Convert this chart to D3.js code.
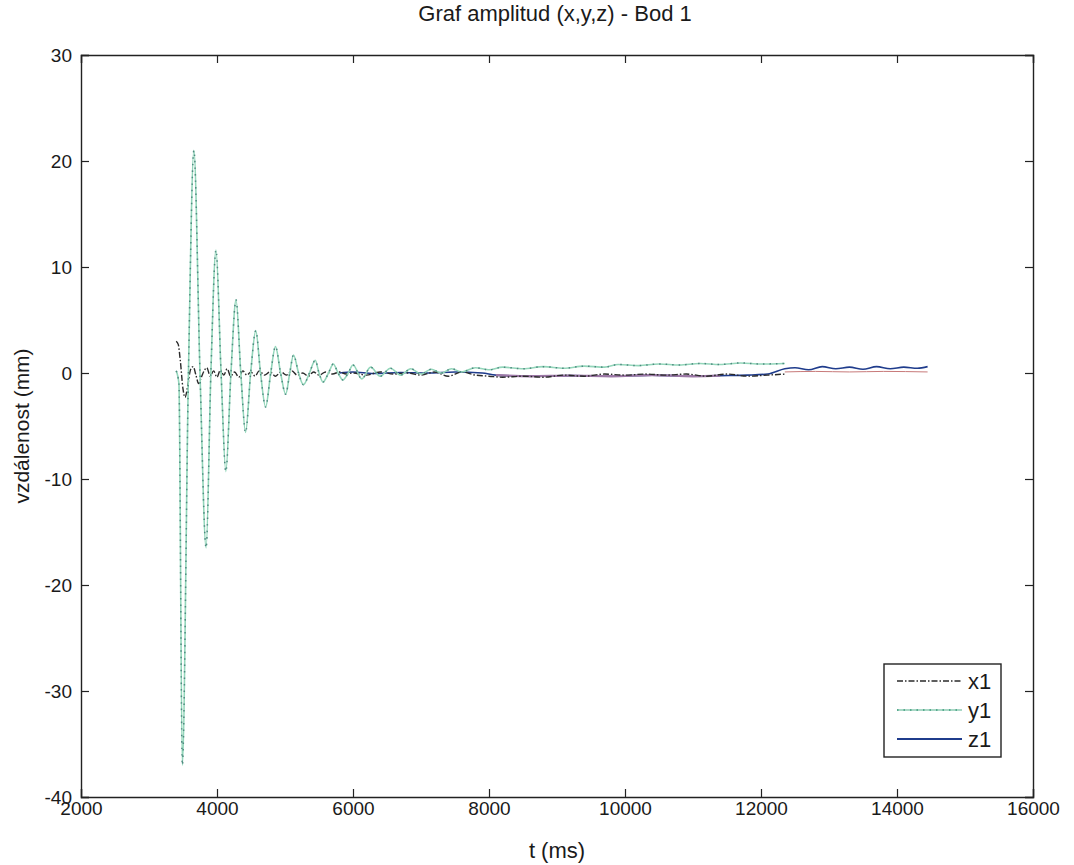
<!DOCTYPE html>
<html lang="cs">
<head>
    <meta charset="UTF-8">
    <title>Graf amplitud (x,y,z) - Bod 1</title>
    <style>
        body, html {
            margin: 0;
            padding: 0;
            background: #fff;
            font-family: "Liberation Sans", Arial, sans-serif;
        }
        .tick text {
            font-family: "Liberation Sans", Arial, sans-serif;
            font-size: 19px;
            fill: #1a1a1a;
        }
        .tick line, .domain {
            stroke: #222;
        }
    </style>
    <script src="https://d3js.org/d3.v7.min.js"></script>
</head>
<body>
    <div id="chart"></div>
    <script>
        // axis ticks
        const xTicks = [2000, 4000, 6000, 8000, 10000, 12000, 14000, 16000];
        const yTicks = [-40, -30, -20, -10, 0, 10, 20, 30];

        // series, [t (ms), value (mm)]
        const x1 = [
            [3400, 3.0], [3430, 2.7], [3460, 1.2], [3500, -1.5], [3530, -2.3], [3570, -1.2],
            [3610, 0.3], [3650, 0.6], [3690, -0.2], [3730, -1.0], [3770, -0.4], [3810, 0.2],
            [3850, 0.5], [3900, -0.3], [3950, 0.2], [4000, -0.4], [4050, 0.3], [4100, -0.2],
            [4150, 0.4], [4200, -0.3], [4260, 0.1], [4320, -0.4], [4380, 0.2], [4440, -0.2],
            [4500, 0.1], [4560, -0.3], [4620, 0.2], [4700, -0.2], [4780, 0.1], [4860, -0.3],
            [4940, 0.1], [5020, -0.2], [5100, 0.2], [5180, -0.2], [5260, 0.0], [5340, -0.3],
            [5420, 0.1], [5500, -0.2], [5600, 0.1], [5700, -0.1], [5800, 0.1], [5900, -0.1],
            [6000, 0.0], [6200, -0.2], [6400, 0.1], [6600, -0.1], [6800, 0.0], [7000, -0.2],
            [7200, 0.1], [7400, -0.3], [7600, 0.1], [7800, -0.2], [8000, -0.3], [8200, -0.4],
            [8500, -0.3], [8800, -0.4], [9100, -0.2], [9400, -0.3], [9700, -0.1], [10000, -0.2],
            [10300, -0.1], [10600, -0.2], [10900, -0.1], [11200, -0.3], [11500, -0.1], [11800, -0.3],
            [12100, -0.2], [12350, -0.1]
        ];
        const y1 = [
            [3400, 0.2], [3440, -1], [3490, -37], [3580, 0], [3660, 21], [3750, 0],
            [3840, -16.5], [3910, 0], [3985, 11.6], [4060, 0], [4130, -9.3], [4205, 0],
            [4280, 6.9], [4350, 0], [4420, -5.6], [4495, 0], [4570, 4.0], [4640, 0],
            [4715, -3.2], [4790, 0], [4860, 2.5], [4935, 0], [5010, -2.0], [5070, 0],
            [5125, 1.7], [5200, 0], [5270, -1.1], [5360, 0], [5445, 1.2], [5500, 0],
            [5560, -0.85], [5640, 0], [5710, 0.85], [5780, 0], [5850, -0.65], [5930, 0],
            [6000, 0.75], [6130, -0.55], [6260, 0.55], [6400, -0.3], [6550, 0.45], [6700, -0.2],
            [6850, 0.4], [7000, -0.1], [7150, 0.35], [7300, 0.0], [7450, 0.4], [7600, 0.1],
            [7800, 0.5], [8000, 0.3], [8200, 0.55], [8500, 0.4], [8800, 0.6], [9100, 0.45],
            [9400, 0.65], [9700, 0.55], [9900, 0.8], [10200, 0.7], [10500, 0.85], [10800, 0.75],
            [11100, 0.9], [11400, 0.8], [11700, 0.95], [12000, 0.85], [12350, 0.9]
        ];
        const z1 = [
            [5800, 0.0], [6000, 0.1], [6300, -0.05], [6700, 0.05], [7100, 0.0], [7500, 0.1],
            [7900, 0.0], [8100, -0.2], [8600, -0.3], [9200, -0.25], [9800, -0.3], [10400, -0.2],
            [11000, -0.3], [11400, -0.25], [11800, -0.2], [12100, -0.1], [12350, 0.4], [12500, 0.5],
            [12700, 0.3], [12900, 0.6], [13100, 0.4], [13300, 0.55], [13500, 0.35], [13700, 0.6],
            [13900, 0.4], [14100, 0.55], [14300, 0.45], [14450, 0.6]
        ];
        // colour fringes of the scan (no legend entry)
        const violet = [
            [8100, -0.2], [8600, -0.3], [9200, -0.25], [9800, -0.3], [10400, -0.2], [11000, -0.3],
            [11400, -0.25]
        ];
        const reddish = [
            [12350, 0.1], [12800, 0.15], [13300, 0.1], [13800, 0.15], [14450, 0.1]
        ];

        const legendItems = ["x1", "y1", "z1"];

        const width = 1074, height = 865;
        const mLeft = 81, mRight = 1033, mTop = 55, mBottom = 797;

        const svg = d3.select("#chart").append("svg")
            .attr("width", width)
            .attr("height", height);

        const x = d3.scaleLinear().domain([2000, 16000]).range([mLeft, mRight]);
        const y = d3.scaleLinear().domain([-40, 30]).range([mBottom, mTop]);

        svg.append("text")
            .attr("x", 555)
            .attr("y", 21)
            .attr("text-anchor", "middle")
            .style("font-size", "22px")
            .attr("fill", "#1a1a1a")
            .text("Graf amplitud (x,y,z) - Bod 1");

        // lines
        const line = d3.line()
            .x(d => x(d[0]))
            .y(d => y(d[1]))
            .curve(d3.curveMonotoneX);

        const plot = svg.append("g");

        plot.append("path").datum(z1)
            .attr("fill", "none")
            .attr("stroke", "#1f3c8c")
            .attr("stroke-width", 1.6)
            .attr("d", line);

        plot.append("path").datum(reddish)
            .attr("fill", "none")
            .attr("stroke", "#c87a7a")
            .attr("stroke-width", 1)
            .attr("d", line);

        plot.append("path").datum(violet)
            .attr("fill", "none")
            .attr("stroke", "#9c78a6")
            .attr("stroke-width", 2.4)
            .attr("d", line);

        plot.append("path").datum(x1)
            .attr("fill", "none")
            .attr("stroke", "#2a2a2a")
            .attr("stroke-width", 1.4)
            .attr("stroke-dasharray", "6,2,1.5,2")
            .attr("d", line);

        plot.append("path").datum(y1)
            .attr("fill", "none")
            .attr("stroke", "#93d6ba")
            .attr("stroke-width", 1.6)
            .attr("d", line);

        plot.append("path").datum(y1)
            .attr("fill", "none")
            .attr("stroke", "#4f8a80")
            .attr("stroke-width", 1.5)
            .attr("stroke-dasharray", "1.5,5")
            .attr("d", line);

        // axes, ticks inside on all four sides; plain hyphen for negatives
        const fmt = d => String(d);
        svg.append("g")
            .attr("transform", `translate(0,${mBottom})`)
            .call(d3.axisBottom(x).tickValues(xTicks).tickSize(-8).tickPadding(5).tickFormat(fmt));
        svg.append("g")
            .attr("transform", `translate(0,${mTop})`)
            .call(d3.axisTop(x).tickValues(xTicks).tickSize(-8).tickFormat(""));
        svg.append("g")
            .attr("transform", `translate(${mLeft},0)`)
            .call(d3.axisLeft(y).tickValues(yTicks).tickSize(-8).tickPadding(9).tickFormat(fmt));
        svg.append("g")
            .attr("transform", `translate(${mRight},0)`)
            .call(d3.axisRight(y).tickValues(yTicks).tickSize(-8).tickFormat(""));

        svg.selectAll(".domain").attr("stroke-width", 1.4);
        svg.selectAll(".tick line").attr("stroke-width", 1.2);

        // axis titles
        svg.append("text")
            .attr("x", 557)
            .attr("y", 858)
            .attr("text-anchor", "middle")
            .style("font-size", "22px")
            .attr("fill", "#1a1a1a")
            .text("t (ms)");

        svg.append("text")
            .attr("transform", `translate(29,${(mTop + mBottom) / 2}) rotate(-90)`)
            .attr("text-anchor", "middle")
            .style("font-size", "21px")
            .attr("fill", "#1a1a1a")
            .text("vzdálenost (mm)");

        // legend
        const lg = svg.append("g").attr("transform", "translate(884,664)");
        lg.append("rect")
            .attr("width", 117)
            .attr("height", 93)
            .attr("fill", "#fff")
            .attr("stroke", "#222")
            .attr("stroke-width", 1.4);

        const styles = {
            x1: { stroke: "#2a2a2a", dash: "6,2,1.5,2", width: 1.4 },
            y1: { stroke: "#a9d8c6", dash: null, width: 1.8 },
            z1: { stroke: "#1f3c8c", dash: null, width: 2.2 }
        };

        legendItems.forEach((name, i) => {
            const row = lg.append("g").attr("transform", `translate(0,${17 + i * 29})`);
            row.append("line")
                .attr("x1", 13).attr("x2", 78)
                .attr("stroke", styles[name].stroke)
                .attr("stroke-width", styles[name].width)
                .attr("stroke-dasharray", styles[name].dash);
            if (name === "y1") {
                row.append("line")
                    .attr("x1", 13).attr("x2", 78)
                    .attr("stroke", "#3f9a7e")
                    .attr("stroke-width", 1.5)
                    .attr("stroke-dasharray", "1.5,5");
            }
            row.append("text")
                .attr("x", 84)
                .attr("dy", "0.35em")
                .style("font-size", "22px")
                .attr("fill", "#1a1a1a")
                .text(name);
        });
    </script>
</body>
</html>
